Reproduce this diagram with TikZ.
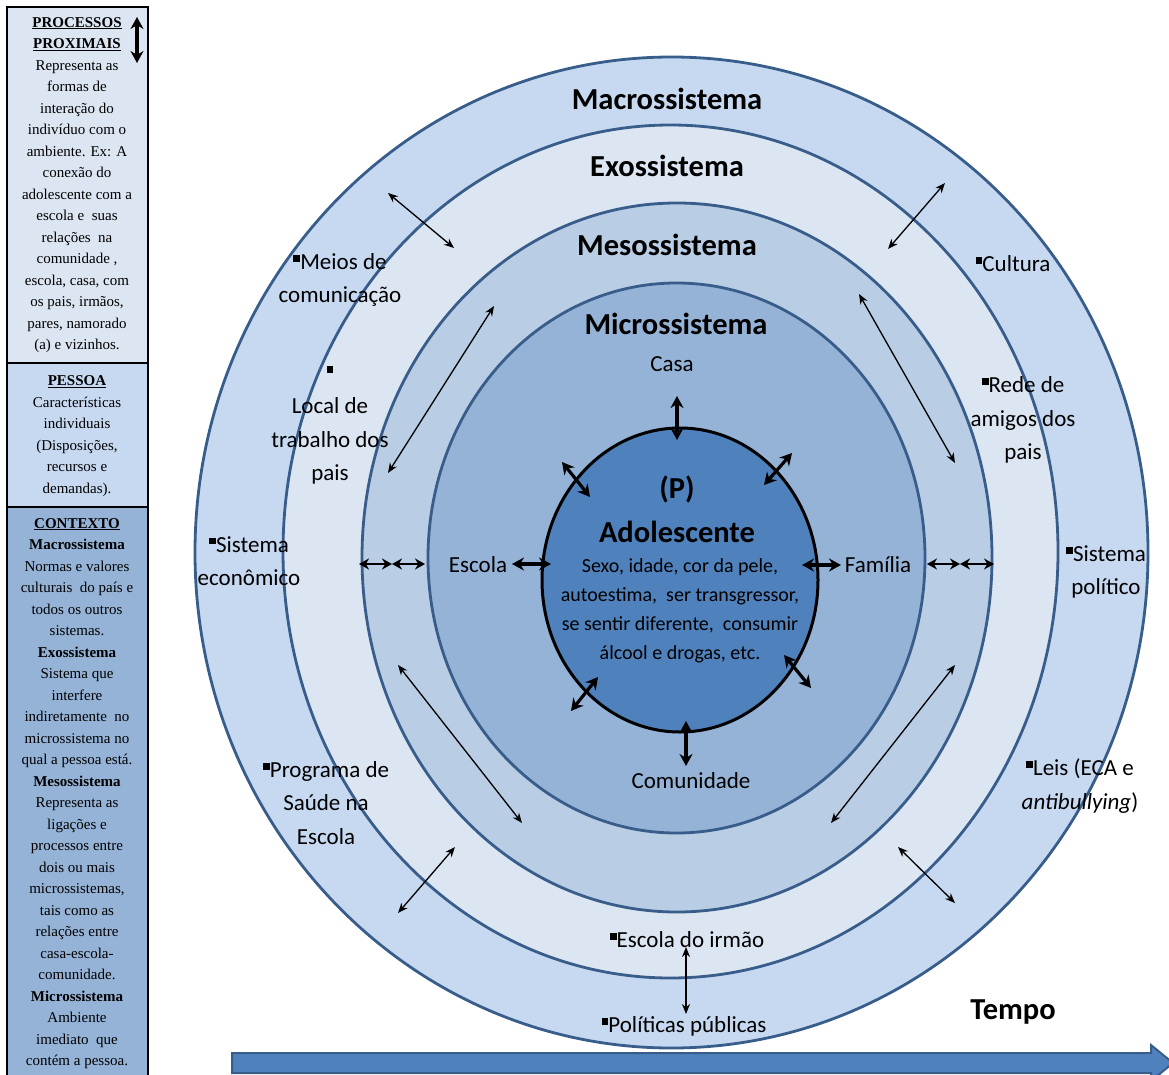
\documentclass[tikz,border=0pt]{standalone}
\usepackage{fontspec}
\setmainfont{Carlito}
\newfontfamily\timesfont{Liberation Serif}
\usetikzlibrary{arrows.meta}

\definecolor{macrofill}{HTML}{C6D9F1}
\definecolor{exofill}{HTML}{DCE6F2}
\definecolor{mesofill}{HTML}{B9CDE5}
\definecolor{microfill}{HTML}{95B3D7}
\definecolor{personfill}{HTML}{4F81BD}
\definecolor{ringline}{HTML}{385D8A}

\newcommand{\blt}{\raisebox{0.33em}{\rule{0.3em}{0.3em}}}

\begin{document}
\begin{tikzpicture}[x=1pt,y=-1pt,
    ring/.style={draw=ringline, line width=2.8pt},
    thinarrow/.style={{Stealth[length=10pt,width=8pt]}-{Stealth[length=10pt,width=8pt]}, line width=1.3pt},
    midarrow/.style={{Stealth[length=10pt,width=11pt]}-{Stealth[length=10pt,width=11pt]}, line width=2pt},
    bigarrow/.style={{Stealth[length=12pt,width=13pt]}-{Stealth[length=12pt,width=13pt]}, line width=3.2pt},
    sysname/.style={font=\fontsize{30.5}{34}\selectfont\bfseries, inner sep=0pt},
    item/.style={font=\fontsize{23}{33.5}\selectfont, align=center, inner sep=0pt},
    paneltext/.style={font=\timesfont\fontsize{15}{21.5}\selectfont, align=center, inner sep=0pt}]
    \useasboundingbox (0,0) rectangle (1169,1075);

    % Rings
    \draw[ring, fill=macrofill] (671.5,552.5) ellipse [x radius=476.5, y radius=495.5];
    \draw[ring, fill=exofill] (670.5,551.5) ellipse [x radius=387.5, y radius=426.5];
    \draw[ring, fill=mesofill] (677,557.5) ellipse [x radius=315, y radius=354.5];
    \draw[ring, fill=microfill] (676.5,558) ellipse [x radius=248.5, y radius=275];
    \draw[line width=3pt, fill=personfill] (680,580) ellipse [x radius=138, y radius=152];

    % Left panel
    \draw[line width=1.5pt, fill=exofill] (7,7) rectangle (148,363);
    \draw[line width=1.5pt, fill=macrofill] (7,363) rectangle (148,507);
    \draw[line width=1.5pt, fill=microfill] (7,507) rectangle (148,1080);

    \node[paneltext] (proc) at (77,185) {\textbf{\underline{PROCESSOS}}\\\textbf{\underline{PROXIMAIS}}\\
        Representa as\\formas de\\interação do\\indivíduo com o\\ambiente. Ex: A\\conexão do\\
        adolescente com a\\escola e~ suas\\relações~ na\\comunidade ,\\escola, casa, com\\
        os pais, irmãos,\\pares, namorado\\(a) e vizinhos.};
    \node[paneltext] (pessoa) at (77,436) {\textbf{\underline{PESSOA}}\\Características\\individuais\\
        (Disposições,\\recursos e\\demandas).};
    \node[paneltext] (contexto) at (77,793.5) {\textbf{\underline{CONTEXTO}}\\\textbf{Macrossistema}\\
        Normas e valores\\culturais~ do país e\\todos os outros\\sistemas.\\\textbf{Exossistema}\\
        Sistema que\\interfere\\indiretamente~ no\\microssistema no\\qual a pessoa está.\\
        \textbf{Mesossistema}\\Representa as\\ligações e\\processos entre\\dois ou mais\\
        microssistemas,\\tais como as\\relações entre\\casa-escola-\\comunidade.\\
        \textbf{Microssistema}\\Ambiente\\imediato~ que\\contém a pessoa.};

    % Proximal processes arrow
    \coordinate (procA) at (137,17);
    \coordinate (procB) at (137,63);
    \draw[bigarrow] (procA) -- (procB);

    % Time arrow
    \draw[draw=ringline, line width=2pt, fill=personfill]
        (232,1053) -- (1151,1053) -- (1151,1045) -- (1173,1063) -- (1151,1081)
        -- (1151,1073) -- (232,1073) -- cycle;
    \node[font=\fontsize{30.5}{34}\selectfont\bfseries] (tempo) at (1013,1012) {Tempo};

    % Arrows around the person
    \coordinate (casaA) at (677,396);
    \coordinate (casaB) at (677,440);
    \draw[bigarrow] (casaA) -- (casaB);
    \coordinate (comA) at (686,721);
    \coordinate (comB) at (686,766);
    \draw[bigarrow] (comA) -- (comB);
    \coordinate (escA) at (512,564);
    \coordinate (escB) at (551,564);
    \draw[bigarrow] (escA) -- (escB);
    \coordinate (famA) at (802,565);
    \coordinate (famB) at (841,565);
    \draw[bigarrow] (famA) -- (famB);
    \coordinate (neA) at (792,453);
    \coordinate (neB) at (764,485);
    \draw[bigarrow] (neA) -- (neB);
    \coordinate (nwA) at (562,462);
    \coordinate (nwB) at (590,497);
    \draw[bigarrow] (nwA) -- (nwB);
    \coordinate (seA) at (784,655);
    \coordinate (seB) at (811,688);
    \draw[bigarrow] (seA) -- (seB);
    \coordinate (swA) at (598,677);
    \coordinate (swB) at (571,711);
    \draw[bigarrow] (swA) -- (swB);

    % Mesosystem horizontal arrows
    \coordinate (mlA) at (359,564);
    \coordinate (mlB) at (392,564);
    \coordinate (mlC) at (425,564);
    \draw[midarrow] (mlA) -- (mlB);
    \draw[midarrow] (mlB) -- (mlC);
    \coordinate (mrA) at (927,564);
    \coordinate (mrB) at (960,564);
    \coordinate (mrC) at (994,564);
    \draw[midarrow] (mrA) -- (mrB);
    \draw[midarrow] (mrB) -- (mrC);

    % Thin diagonal arrows
    \coordinate (d1A) at (388,193);
    \coordinate (d1B) at (454,248);
    \draw[thinarrow] (d1A) -- (d1B);
    \coordinate (d2A) at (494,306);
    \coordinate (d2B) at (388,473);
    \draw[thinarrow] (d2A) -- (d2B);
    \coordinate (d3A) at (945,183);
    \coordinate (d3B) at (888,249);
    \draw[thinarrow] (d3A) -- (d3B);
    \coordinate (d4A) at (859,294);
    \coordinate (d4B) at (955,463);
    \draw[thinarrow] (d4A) -- (d4B);
    \coordinate (d5A) at (398,665);
    \coordinate (d5B) at (522,823);
    \draw[thinarrow] (d5A) -- (d5B);
    \coordinate (d6A) at (455,847);
    \coordinate (d6B) at (398,913);
    \draw[thinarrow] (d6A) -- (d6B);
    \coordinate (d7A) at (955,665);
    \coordinate (d7B) at (831,823);
    \draw[thinarrow] (d7A) -- (d7B);
    \coordinate (d8A) at (898,847);
    \coordinate (d8B) at (955,903);
    \draw[thinarrow] (d8A) -- (d8B);
    \coordinate (d9A) at (686,947);
    \coordinate (d9B) at (686,1014);
    \draw[thinarrow] (d9A) -- (d9B);

    % System names
    \node[sysname] (macro) at (667,99) {Macrossistema};
    \node[sysname] (exo) at (667,166) {Exossistema};
    \node[sysname] (meso) at (667,245) {Mesossistema};
    \node[sysname] (micro) at (676,324) {Microssistema};

    % Person
    \node[sysname] (p) at (677,489) {(P)};
    \node[sysname] (adol) at (677,532) {Adolescente};
    \node[font=\fontsize{20}{29}\selectfont, align=center, inner sep=0pt] (traits) at (680,610.5)
        {Sexo, idade, cor da pele,\\autoestima,~ ser transgressor,\\se sentir diferente,~ consumir\\álcool e drogas, etc.};

    % Microsystem settings
    \node[item] (casa) at (672,364) {Casa};
    \node[item] (escola) at (478,565) {Escola};
    \node[item] (familia) at (878,565) {Família};
    \node[item] (comunidade) at (691,781) {Comunidade};

    % Exosystem items
    \node[item] (meios) at (340,280) {\blt Meios de\\comunicação};
    \node[item] (local) at (330,425) {\blt\\Local de\\trabalho dos\\pais};
    \node[item] (rede) at (1023,420) {\blt Rede de\\amigos dos\\pais};
    \node[item] (programa) at (326,803) {\blt Programa de\\Saúde na\\Escola};
    \node[item] (irmao) at (687,940) {\blt Escola do irmão};

    % Macrosystem items
    \node[item] (cultura) at (1013,264) {\blt Cultura};
    \node[item] (economico) at (249,561) {\blt Sistema\\econômico};
    \node[item] (politico) at (1106,572) {\blt Sistema\\político};
    \node[item] (leis) at (1080,786) {\blt Leis (ECA e\\\textit{antibullying})};
    \node[item] (politicas) at (684,1026) {\blt Políticas públicas};
\end{tikzpicture}
\end{document}
